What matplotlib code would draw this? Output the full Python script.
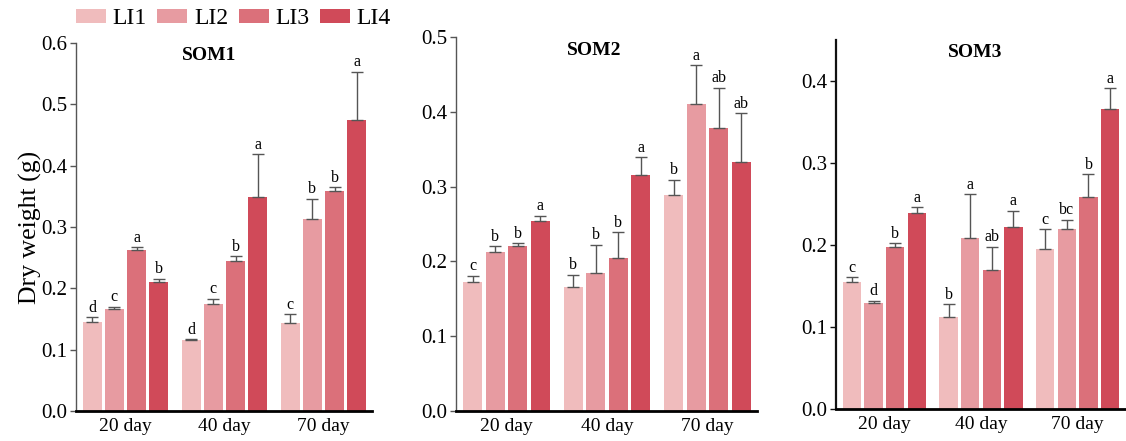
import numpy as np
import matplotlib
matplotlib.use("Agg")
from matplotlib import pyplot as plt
from matplotlib.patches import Patch

plt.rcParams['font.family'] = ['Liberation Serif', 'DejaVu Serif']

days = ["20 day", "40 day", "70 day"]
levels = ["LI1", "LI2", "LI3", "LI4"]
colors = ["#F0BCBD", "#E79BA1", "#DB707A", "#D04A59"]

# mean values, rows = LI1..LI4, cols = 20/40/70 day
som1 = [[0.145, 0.116, 0.143],
        [0.167, 0.175, 0.313],
        [0.262, 0.244, 0.358],
        [0.210, 0.349, 0.475]]
som1_err = [[0.008, 0.001, 0.015],
            [0.003, 0.008, 0.033],
            [0.005, 0.008, 0.007],
            [0.006, 0.070, 0.078]]
som1_let = [["d", "d", "c"], ["c", "c", "b"], ["a", "b", "b"], ["b", "a", "a"]]

som2 = [[0.172, 0.166, 0.289],
        [0.213, 0.185, 0.410],
        [0.220, 0.204, 0.378],
        [0.254, 0.316, 0.333]]
som2_err = [[0.009, 0.016, 0.020],
            [0.007, 0.037, 0.052],
            [0.004, 0.035, 0.054],
            [0.007, 0.023, 0.065]]
som2_let = [["c", "b", "b"], ["b", "b", "a"], ["b", "b", "ab"], ["a", "a", "ab"]]

som3 = [[0.155, 0.112, 0.195],
        [0.129, 0.209, 0.219],
        [0.197, 0.169, 0.259],
        [0.239, 0.222, 0.366]]
som3_err = [[0.006, 0.016, 0.024],
            [0.003, 0.053, 0.012],
            [0.005, 0.029, 0.027],
            [0.007, 0.020, 0.025]]
som3_let = [["c", "b", "c"], ["d", "a", "bc"], ["b", "ab", "b"], ["a", "a", "a"]]

panels = [
    ("SOM1", som1, som1_err, som1_let, 0.6, [0.0, 0.1, 0.2, 0.3, 0.4, 0.5, 0.6], "#555555", 1.0),
    ("SOM2", som2, som2_err, som2_let, 0.5, [0.0, 0.1, 0.2, 0.3, 0.4, 0.5], "#555555", 1.0),
    ("SOM3", som3, som3_err, som3_let, 0.45, [0.0, 0.1, 0.2, 0.3, 0.4], "#111111", 1.6),
]

# axes rectangles in pixels: left, right, top, bottom
W, H = 1126, 441
rects = [(76, 372, 43, 411), (456, 757, 37, 411), (836, 1125, 40, 409)]
title_x = [0.45, 0.46, 0.48]

fig = plt.figure(figsize=(W / 100, H / 100), dpi=100)

x = np.arange(len(days))
step = 0.2235
width = 0.19

for i, (name, vals, errs, lets, ymax, yt, lcol, lw) in enumerate(panels):
    l, r, t, b = rects[i]
    ax = fig.add_axes([l / W, 1 - b / H, (r - l) / W, (b - t) / H])
    for k in range(4):
        pos = x + (k - 1.5) * step
        ax.bar(pos, vals[k], width, color=colors[k], zorder=2)
        ax.errorbar(pos, vals[k], yerr=[np.zeros(3), errs[k]], fmt="none",
                    ecolor="#555555", elinewidth=1.0, capsize=4, capthick=1.0, zorder=3)
        for j in range(3):
            ax.text(pos[j], vals[k][j] + errs[k][j] + ymax * 0.004, lets[k][j],
                    ha="center", va="bottom", fontsize=11.5)
    ax.set_xlim(-0.5, 2.49)
    ax.set_ylim(0, ymax)
    ax.set_yticks(yt)
    ax.set_yticklabels(["%.1f" % v for v in yt], fontsize=15)
    ax.set_xticks(x)
    ax.set_xticklabels(days, fontsize=14)
    ax.tick_params(axis="x", length=0, pad=5)
    ax.tick_params(axis="y", length=4, width=1, color=lcol, pad=2)
    ax.spines["top"].set_visible(False)
    ax.spines["right"].set_visible(False)
    ax.spines["left"].set_color(lcol)
    ax.spines["left"].set_linewidth(lw)
    ax.spines["bottom"].set_color("black")
    ax.spines["bottom"].set_linewidth(2)
    ax.text(title_x[i], 0.965, name, transform=ax.transAxes, ha="center", va="center",
            fontsize=14, fontweight="bold")
    if i == 0:
        ax.set_ylabel("Dry weight (g)", fontsize=18.5, labelpad=0)

handles = [Patch(facecolor=c, edgecolor="none") for c in colors]
fig.legend(handles, levels, loc="center left", bbox_to_anchor=(76 / W, 1 - 19 / H),
           ncol=4, frameon=False, fontsize=17, handlelength=1.27, handleheight=0.55,
           handletextpad=0.28, columnspacing=0.45, borderpad=0, borderaxespad=0)

fig.savefig("out.png", dpi=100)
